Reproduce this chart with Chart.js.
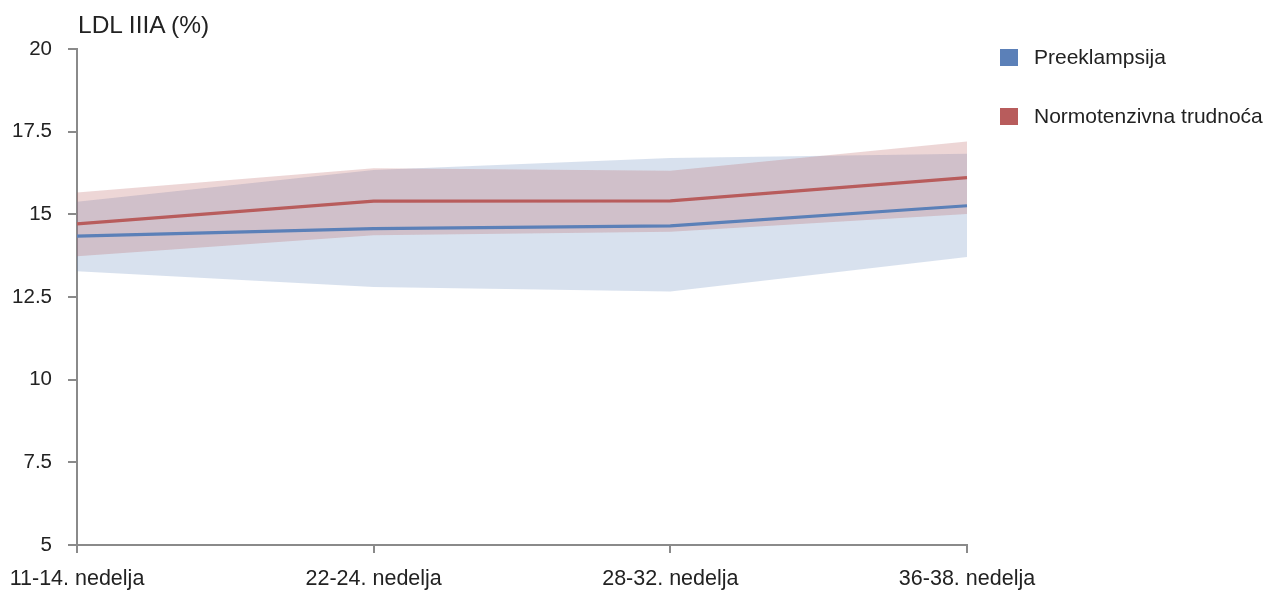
<!DOCTYPE html>
<html>
<head>
<meta charset="utf-8">
<script src="https://cdn.jsdelivr.net/npm/chart.js@4.4.1/dist/chart.umd.min.js"></script>
<style>
  html, body { margin: 0; padding: 0; background: #fff; }
  #wrap { position: relative; width: 1269px; height: 591px; font-family: "Liberation Sans", Arial, sans-serif; color: #222; }
  #plot { position: absolute; left: 0; top: 0; }
  #ytitle { position: absolute; left: 78px; top: 13px; font-size: 24.5px; line-height: 24px; white-space: nowrap; }
  .leg { position: absolute; left: 1000px; height: 24px; display: flex; align-items: center; font-size: 21px; white-space: nowrap; }
  .leg span.sw { display: inline-block; width: 18px; height: 17px; margin-right: 16px; }
</style>
</head>
<body>
<div id="wrap">
  <canvas id="plot" width="1269" height="591"></canvas>
  <div id="ytitle">LDL IIIA (%)</div>
  <div class="leg" style="top:45px"><span class="sw" style="background:#5b80b8"></span>Preeklampsija</div>
  <div class="leg" style="top:104px"><span class="sw" style="background:#b85c5c"></span>Normotenzivna trudnoća</div>
</div>
<script>
// Gestational periods on the x axis
const categories = ['11-14. nedelja', '22-24. nedelja', '28-32. nedelja', '36-38. nedelja'];

// Preeclampsia: mean and band limits (LDL IIIA, %)
const preMean  = [14.34, 14.57, 14.65, 15.26];
const preUpper = [15.38, 16.34, 16.70, 16.83];
const preLower = [13.28, 12.80, 12.67, 13.71];

// Normotensive pregnancy: mean and band limits
const normMean  = [14.71, 15.40, 15.41, 16.11];
const normUpper = [15.66, 16.39, 16.32, 17.20];
const normLower = [13.73, 14.37, 14.47, 15.01];

// Y axis ticks
const yTicks = [5, 7.5, 10, 12.5, 15, 17.5, 20];

const blue = '#5b80b8';
const red = '#b85c5c';
const blueBand = 'rgba(91,128,184,0.24)';
const redBand = 'rgba(184,92,92,0.25)';
const axisColor = '#8a8a8a';

const band = (data, fill, color, order) => ({
  data, fill, backgroundColor: color, borderWidth: 0, pointRadius: 0, tension: 0, order
});

new Chart(document.getElementById('plot'), {
  type: 'line',
  data: {
    labels: categories,
    datasets: [
      band(preUpper, '+1', blueBand, 3),
      band(preLower, false, 'transparent', 3),
      band(normUpper, '+1', redBand, 2),
      band(normLower, false, 'transparent', 2),
      { data: normMean, borderColor: red, borderWidth: 3.2, pointRadius: 0, fill: false, tension: 0, order: 1 },
      { data: preMean, borderColor: blue, borderWidth: 3.2, pointRadius: 0, fill: false, tension: 0, order: 0 }
    ]
  },
  options: {
    responsive: false,
    animation: false,
    layout: { padding: { left: 0, top: 49, right: 302, bottom: 0 } },
    plugins: { legend: { display: false }, tooltip: { enabled: false }, filler: { drawTime: 'beforeDatasetsDraw' } },
    scales: {
      x: {
        type: 'category',
        offset: false,
        grid: { display: true, drawOnChartArea: false, drawTicks: true, tickLength: 8, color: axisColor, lineWidth: 2 },
        border: { display: true, color: axisColor, width: 2 },
        ticks: { font: { family: 'Liberation Sans', size: 21.5 }, color: '#222', padding: 13, maxRotation: 0, autoSkip: false },
        afterFit: s => { s.height = 46; s.paddingLeft = 0; s.paddingRight = 0; }
      },
      y: {
        min: 5,
        max: 20,
        afterBuildTicks: s => { s.ticks = yTicks.map(v => ({ value: v })); },
        grid: { display: true, drawOnChartArea: false, drawTicks: true, tickLength: 9, color: axisColor, lineWidth: 2 },
        border: { display: true, color: axisColor, width: 2 },
        ticks: { font: { family: 'Liberation Sans', size: 20.5 }, color: '#222', padding: 16, callback: v => String(v) },
        afterFit: s => { s.width = 77; s.paddingTop = 0; s.paddingBottom = 0; }
      }
    }
  }
});
</script>
</body>
</html>
